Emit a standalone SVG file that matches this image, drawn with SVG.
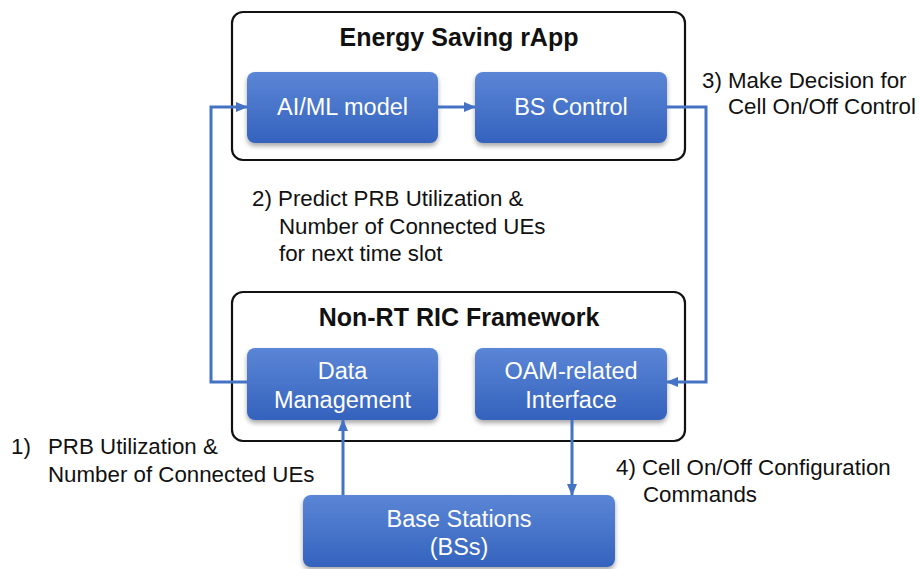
<svg xmlns="http://www.w3.org/2000/svg" width="919" height="569" viewBox="0 0 919 569">
  <style>
    .frame { fill: #ffffff; stroke: #111111; stroke-width: 2.2; }
    .title { font-family: "Liberation Sans", Arial, sans-serif; font-size: 25px; font-weight: bold; fill: #111111; text-anchor: middle; }
    .box { fill: url(#boxFill); filter: url(#shadow); }
    .boxText { font-family: "Liberation Sans", Arial, sans-serif; font-size: 23.5px; fill: #ffffff; text-anchor: middle; }
    .note { font-family: "Liberation Sans", Arial, sans-serif; font-size: 22.3px; fill: #111111; }
    .link { fill: none; stroke: #4472c4; stroke-width: 3; }
  </style>
  <defs>
    <linearGradient id="boxFill" x1="0" y1="0" x2="0" y2="1">
      <stop offset="0" stop-color="#5b86d6"/>
      <stop offset="1" stop-color="#3462bd"/>
    </linearGradient>
    <filter id="shadow" x="-10%" y="-10%" width="120%" height="135%">
      <feGaussianBlur in="SourceAlpha" stdDeviation="2.5"/>
      <feOffset dx="0" dy="3" result="b"/>
      <feComponentTransfer><feFuncA type="linear" slope="0.35"/></feComponentTransfer>
      <feMerge><feMergeNode/><feMergeNode in="SourceGraphic"/></feMerge>
    </filter>
    <marker id="arrow" viewBox="0 0 12 10" refX="11" refY="5" markerWidth="12" markerHeight="10" markerUnits="userSpaceOnUse" orient="auto">
      <path d="M0,0 L12,5 L0,10 Z" fill="#4472c4"/>
    </marker>
  </defs>

  <rect width="919" height="569" fill="#ffffff"/>

  <!-- Energy Saving rApp container -->
  <g id="rapp">
    <rect class="frame" x="232" y="12" width="453" height="148" rx="11"/>
    <text class="title" x="459" y="46">Energy Saving rApp</text>
  </g>

  <!-- Non-RT RIC container -->
  <g id="nonrt-ric">
    <rect class="frame" x="232" y="292" width="453" height="149" rx="11"/>
    <text class="title" x="459" y="326">Non-RT RIC Framework</text>
  </g>

  <g id="aiml">
    <rect class="box" x="247" y="72" width="191" height="71" rx="8"/>
    <text class="boxText" x="342.5" y="115">AI/ML model</text>
  </g>

  <g id="bs-control">
    <rect class="box" x="475" y="72" width="192" height="71" rx="8"/>
    <text class="boxText" x="571" y="115">BS Control</text>
  </g>

  <g id="data-management">
    <rect class="box" x="247" y="348" width="191" height="72" rx="8"/>
    <text class="boxText" x="342.5" y="379">Data</text>
    <text class="boxText" x="342.5" y="408">Management</text>
  </g>

  <g id="oam-interface">
    <rect class="box" x="475" y="348" width="192" height="72" rx="8"/>
    <text class="boxText" x="571" y="379">OAM-related</text>
    <text class="boxText" x="571" y="408">Interface</text>
  </g>

  <g id="base-stations">
    <rect class="box" x="303" y="495" width="312" height="72" rx="8"/>
    <text class="boxText" x="459" y="527">Base Stations</text>
    <text class="boxText" x="459" y="555">(BSs)</text>
  </g>

  <!-- connectors -->
  <g id="connectors">
    <path class="link" d="M247,382 H211 V107 H247" marker-end="url(#arrow)"/>
    <path class="link" d="M438,107 H475" marker-end="url(#arrow)"/>
    <path class="link" d="M667,107 H706 V382 H667" marker-end="url(#arrow)"/>
    <path class="link" d="M343,495 V420" marker-end="url(#arrow)"/>
    <path class="link" d="M572,420 V495" marker-end="url(#arrow)"/>
  </g>

  <!-- step annotations -->
  <g id="labels">
    <text class="note" x="702" y="88">3) Make Decision for</text>
    <text class="note" x="728" y="114">Cell On/Off Control</text>

    <text class="note" x="252" y="206">2) Predict PRB Utilization &amp;</text>
    <text class="note" x="279" y="234">Number of Connected UEs</text>
    <text class="note" x="279" y="261">for next time slot</text>

    <text class="note" x="11" y="454">1)</text>
    <text class="note" x="48" y="454">PRB Utilization &amp;</text>
    <text class="note" x="48" y="482">Number of Connected UEs</text>

    <text class="note" x="616" y="475">4) Cell On/Off Configuration</text>
    <text class="note" x="643" y="502">Commands</text>
  </g>
</svg>
